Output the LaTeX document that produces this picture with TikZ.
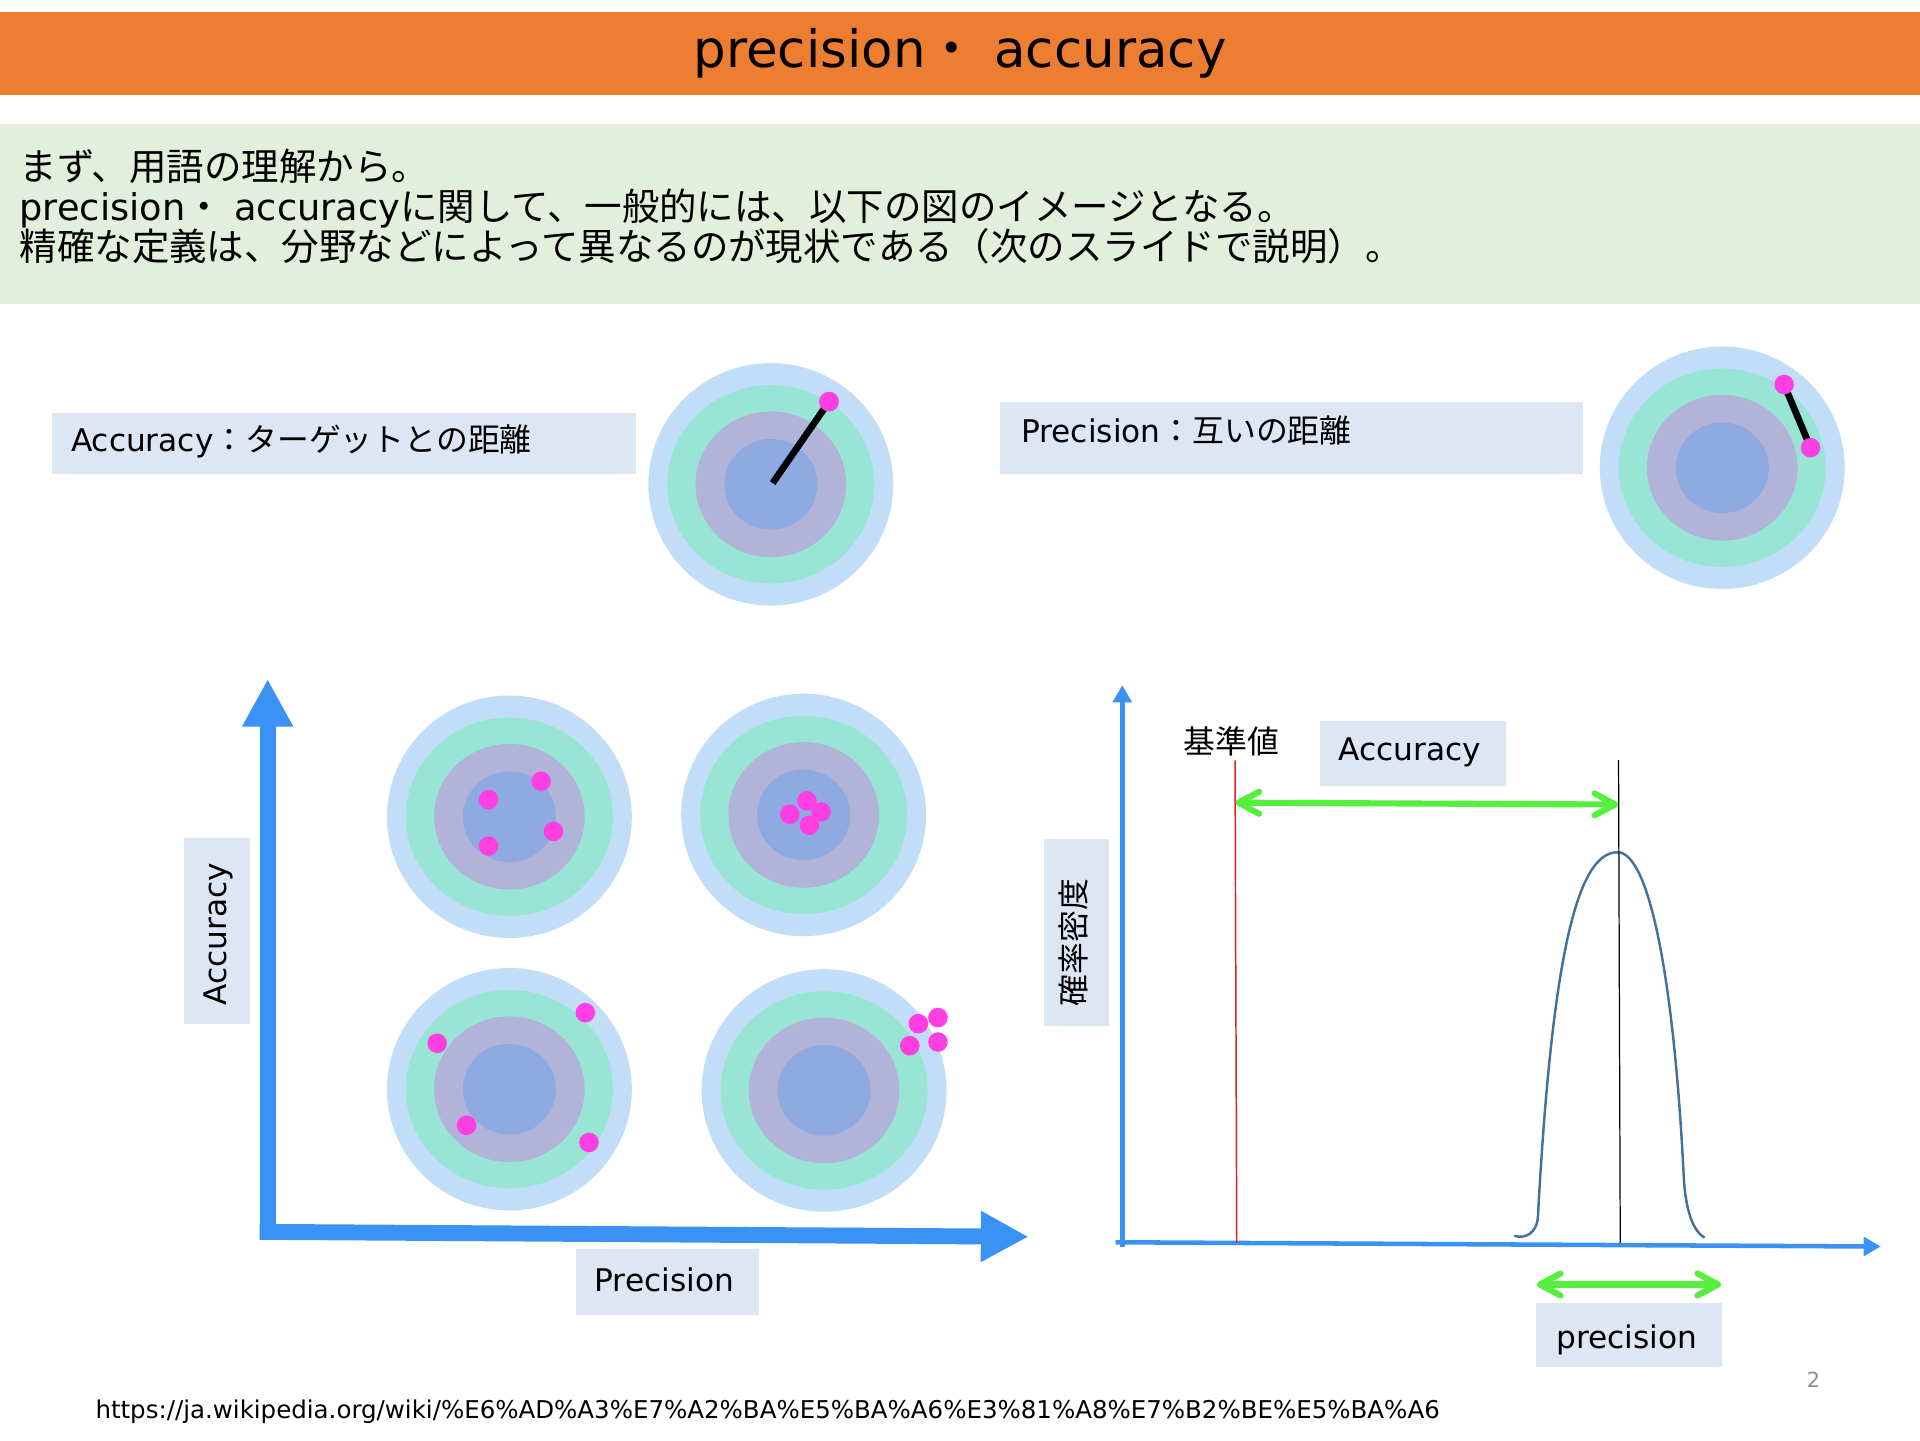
\documentclass[tikz,border=0pt]{standalone}
\usepackage{fontspec}
\setmainfont{DejaVu Sans}
\newfontfamily\jp[Scale=1.02]{Noto Sans CJK JP}
\usetikzlibrary{arrows.meta}
\definecolor{orangebar}{HTML}{ED7D31}
\definecolor{greenband}{HTML}{E2EFDA}
\definecolor{labelbox}{HTML}{DDE7F4}
\definecolor{tA}{HTML}{C2DDF8}
\definecolor{tB}{HTML}{98E5D6}
\definecolor{tC}{HTML}{B1B3D9}
\definecolor{tD}{HTML}{8EAAE0}
\definecolor{mag}{HTML}{FF3FE2}
\definecolor{axblue}{HTML}{3B92F5}
\definecolor{arrgreen}{HTML}{55F03D}
\definecolor{curveblue}{HTML}{41719C}
\definecolor{refred}{HTML}{DC2020}
\definecolor{pagegray}{HTML}{8C8C8C}
\tikzset{
  txt/.style={inner sep=0pt, outer sep=0pt, text=black},
  bodytxt/.style={txt, anchor=base west, font=\fontsize{30}{33}\selectfont},
  labtxt/.style={txt, font=\fontsize{25.5}{28}\selectfont},
  box/.style={fill=labelbox, draw=none},
  dot/.style={circle, fill=mag, draw=none, inner sep=0pt, minimum size=16pt},
  stick/.style={draw=black, line width=5.5pt},
  bigax/.style={draw=axblue, line width=13pt, -{Triangle[length=39pt,width=39pt]}},
  smallax/.style={draw=axblue, line width=3.7pt, -{Triangle[length=14pt,width=15pt]}},
  garrow/.style={draw=arrgreen, line width=5pt, line cap=round,
    {Straight Barb[length=17pt,width=18pt,round]}-{Straight Barb[length=17pt,width=18pt,round]}},
  target/.pic={
    \fill[tA] (0,0) ellipse [x radius=100pt, y radius=99pt];
    \fill[tB] (0,0) ellipse [x radius=84.5pt, y radius=81pt];
    \fill[tC] (0,0) ellipse [x radius=61.5pt, y radius=59.5pt];
    \fill[tD] (0,0) ellipse [x radius=38pt, y radius=37pt];
  }
}
\begin{document}
\begin{tikzpicture}[x=1pt,y=-1pt]
\useasboundingbox (0,0) rectangle (1568,1176);

% title bar
\fill[orangebar] (0,10) rectangle (1568,77.5);
\node[txt, anchor=base, font=\fontsize{42}{46}\selectfont] (title) at (784,55)
  {precision{\jp ・} accuracy};

% intro band
\fill[greenband] (0,101) rectangle (1568,248);
\node[bodytxt] (l1) at (16,147) {\jp まず、用語の理解から。};
\node[bodytxt] (l2) at (16,180) {precision{\jp ・} accuracy{\jp に関して、一般的には、以下の図のイメージとなる。}};
\node[bodytxt] (l3) at (16,213) {\jp 精確な定義は、分野などによって異なるのが現状である（次のスライドで説明）。};

% Accuracy definition
\fill[box] (42.5,337) rectangle (519,387);
\node[labtxt, anchor=base west] (accdef) at (58,369) {Accuracy{\jp ：ターゲットとの距離}};
\pic at (629.5,395.5) {target};
\coordinate (c1) at (631,394.5);
\node[dot] (d1) at (677,328) {};
\draw[stick] (c1) -- (d1.center);
\node[dot] (d1b) at (677,328) {};

% Precision definition
\fill[box] (816.5,328) rectangle (1293,387);
\node[labtxt, anchor=base west] (precdef) at (834,361.5) {Precision{\jp ：互いの距離}};
\pic at (1406.5,382) {target};
\coordinate (e1c) at (1457,314);
\coordinate (e2c) at (1478.6,365.6);
\draw[stick] (e1c) -- (e2c);
\node[dot] (e1) at (e1c) {};
\node[dot] (e2) at (e2c) {};

% left chart: axes
\coordinate (vax0) at (218.6,1012.5);
\coordinate (vax1) at (218.6,554.5);
\coordinate (hax0) at (212,1006);
\coordinate (hax1) at (840,1010);
\draw[bigax] (vax0) -- (vax1);
\draw[bigax] (hax0) -- (hax1);
\fill[box] (150.4,684.5) rectangle (204,836.3);
\node[labtxt, anchor=base, rotate=90] (acclab) at (184.7,763) {Accuracy};
\fill[box] (470.3,1020) rectangle (620.1,1074);
\node[labtxt, anchor=base] (preclab) at (542.5,1055) {Precision};

% four targets
\pic at (416,667) {target};
\pic at (656.3,665.5) {target};
\pic at (416,889.5) {target};
\pic at (673,890.5) {target};

% TL: accurate, imprecise
\node[dot] (p1) at (399,653) {};
\node[dot] (p2) at (442,638) {};
\node[dot] (p3) at (452,679) {};
\node[dot] (p4) at (399,691) {};
% TR: accurate, precise
\node[dot] (q1) at (659,654) {};
\node[dot] (q2) at (670.5,663) {};
\node[dot] (q3) at (645,665) {};
\node[dot] (q4) at (661,674) {};
% BL: inaccurate, imprecise
\node[dot] (r1) at (478,827) {};
\node[dot] (r2) at (357,852) {};
\node[dot] (r3) at (381,919) {};
\node[dot] (r4) at (481,933) {};
% BR: inaccurate, precise
\node[dot] (s1) at (750,836) {};
\node[dot] (s2) at (766,831) {};
\node[dot] (s3) at (743,854) {};
\node[dot] (s4) at (766,851) {};

% right chart
\coordinate (rv0) at (916.5,1018);
\coordinate (rv1) at (916.5,559.5);
\coordinate (rh0) at (911,1014.5);
\coordinate (rh1) at (1536,1018);
\draw[smallax] (rv0) -- (rv1);
\draw[smallax] (rh0) -- (rh1);

\fill[box] (852.8,685) rectangle (906,838);
\node[labtxt, anchor=base, rotate=90] (densl) at (886.7,769.7) {\jp 確率密度};

\coordinate (redtop) at (1008.6,621);
\coordinate (redbot) at (1010,1015);
\draw[refred, line width=1.2pt] (redtop) -- (redbot);
\node[labtxt, anchor=base] (kijun) at (1005.7,615) {\jp 基準値};

% bell curve
\draw[curveblue, line width=2pt, line cap=round]
  (1237.2,1009.4) .. controls (1245,1011.5) and (1255.2,1008) .. (1256,993)
  .. controls (1268,770) and (1290,696) .. (1321,696)
  .. controls (1347,696) and (1367,800) .. (1375,960)
  .. controls (1376.5,990) and (1383,1005) .. (1391.6,1010.5);

\coordinate (blktop) at (1321.8,620.7);
\coordinate (blkbot) at (1323.2,1015);
\draw[black, line width=1pt] (blktop) -- (blkbot);

\fill[box] (1078,588.4) rectangle (1229.6,642);
\node[labtxt, anchor=base] (acclab2) at (1151.5,621) {Accuracy};
\coordinate (ga0) at (1008.8,655.5);
\coordinate (ga1) at (1321.6,657);
\draw[garrow] (ga0) -- (ga1);

\coordinate (gp0) at (1255,1049);
\coordinate (gp1) at (1405.7,1049);
\draw[garrow] (gp0) -- (gp1);
\fill[box] (1254.2,1064) rectangle (1406,1116.5);
\node[labtxt, anchor=base] (preclab2) at (1328.4,1101.5) {precision};

% footer
\node[txt, anchor=base, text=pagegray, font=\fontsize{17}{20}\selectfont] (pagenum) at (1481,1133) {2};
\node[txt, anchor=base west, font=\fontsize{20}{24}\selectfont] (url) at (78,1158.3)
  {https://ja.wikipedia.org/wiki/\%E6\%AD\%A3\%E7\%A2\%BA\%E5\%BA\%A6\%E3\%81\%A8\%E7\%B2\%BE\%E5\%BA\%A6};
\end{tikzpicture}
\end{document}
